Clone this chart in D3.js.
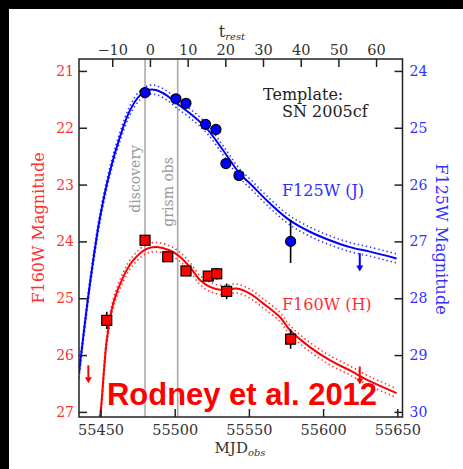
<!DOCTYPE html>
<html><head><meta charset="utf-8">
<script src="https://cdn.jsdelivr.net/npm/d3@7"></script>
<style>
html,body{margin:0;padding:0;background:#000;}
svg{display:block;}
</style></head>
<body>
<svg id="chart" width="463" height="469"></svg>
<script>
// ---- data ----
const mjdTicks = [55450, 55500, 55550, 55600, 55650];
const tRestTicks = [-10, 0, 10, 20, 30, 40, 50, 60];
const hTicks = [21, 22, 23, 24, 25, 26, 27];
const jTicks = [24, 25, 26, 27, 28, 29, 30];

// F125W (J) observations: MJD, mag, error
const jMJD = [55480.0, 55500.8, 55507.6, 55520.8, 55527.8, 55534.5, 55543.3, 55578.1];
const jMag = [24.38, 24.49, 24.57, 24.94, 25.03, 25.63, 25.84, 27.00];
const jErr = [0.04, 0.04, 0.04, 0.05, 0.05, 0.06, 0.07, 0.38];
// F160W (H) observations
const hMJD = [55454.2, 55480.0, 55495.3, 55507.6, 55522.6, 55528.3, 55535.0, 55578.1];
const hMag = [25.39, 23.98, 24.27, 24.52, 24.61, 24.57, 24.88, 25.72];
const hErr = [0.15, 0.05, 0.05, 0.06, 0.06, 0.1, 0.14, 0.17];
// upper limits
const jLimMJD = [55624.7];
const jLimMag = [27.21];
const hLimMJD = [55441.8, 55624.7];
const hLimMag = [26.18, 26.2];

// template curves (SN 2005cf)
const jCurveMJD = [55435.5, 55442.9, 55449.7, 55456.4, 55463.1, 55469.9, 55476.6, 55483.3, 55487.8, 55494.6, 55501.3, 55510.4, 55521.5, 55532.7, 55543.9, 55550.7, 55564.1, 55577.6, 55591.1, 55604.5, 55618.0, 55631.5, 55649.5];
const jCurveMag = [29.32, 27.74, 26.57, 25.76, 25.16, 24.69, 24.43, 24.33, 24.34, 24.43, 24.57, 24.75, 25.01, 25.40, 25.81, 25.98, 26.33, 26.63, 26.83, 26.98, 27.10, 27.18, 27.30];
const hCurveMJD = [55448.0, 55449.7, 55454.2, 55458.6, 55465.4, 55472.1, 55481.1, 55487.8, 55496.8, 55503.5, 55510.2, 55517.0, 55523.7, 55532.7, 55541.7, 55550.7, 55559.6, 55570.9, 55577.6, 55591.1, 55604.5, 55618.0, 55631.5, 55649.5];
const hCurveMag = [27.3, 27.09, 25.74, 25.09, 24.62, 24.33, 24.13, 24.10, 24.16, 24.27, 24.45, 24.68, 24.80, 24.86, 24.83, 24.92, 25.09, 25.33, 25.56, 25.86, 26.09, 26.27, 26.46, 26.67];
const bandHalf = 0.08;

const discoveryMJD = 55480.0;
const grismMJD = 55502.0;
const tZeroMJD = 55483.3;
const stretch = 2.54;

// ---- chart ----
const SERIF = "DejaVu Serif, serif";
const svg = d3.select("#chart");
svg.append("rect").attr("x", 9).attr("y", 9).attr("width", 454).attr("height", 460).attr("fill", "#fff");

const L = 79, R = 402.5, T = 59, B = 417;
const mjdDom = [55435.5, 55653.5];
const x = d3.scaleLinear().domain(mjdDom).range([L, R]);
const yH = d3.scaleLinear().domain([20.79, 27.09]).range([T, B]);
const yJ = d3.scaleLinear().domain([23.79, 30.09]).range([T, B]);
const xt = d3.scaleLinear().domain(mjdDom.map(m => (m - tZeroMJD) / stretch)).range([L, R]);

svg.append("clipPath").attr("id", "clip").append("rect")
  .attr("x", L).attr("y", T).attr("width", R - L).attr("height", B - T);

const plot = svg.append("g").attr("clip-path", "url(#clip)");

// vertical lines
[discoveryMJD, grismMJD].forEach(m => {
  plot.append("line").attr("x1", x(m)).attr("x2", x(m)).attr("y1", T).attr("y2", B)
    .attr("stroke", "#aaa").attr("stroke-width", 1.6);
});
svg.append("text").attr("transform", `translate(${x(discoveryMJD) - 5},145) rotate(-90)`)
  .attr("text-anchor", "end").style("font-family", SERIF).attr("font-size", 14).attr("fill", "#999").text("discovery");
svg.append("text").attr("transform", `translate(${x(grismMJD) - 5},157) rotate(-90)`)
  .attr("text-anchor", "end").style("font-family", SERIF).attr("font-size", 14).attr("fill", "#999").text("grism obs");

function drawCurve(mjds, mags, y, color) {
  const pts = mjds.map((m, i) => [m, mags[i]]);
  const line = off => d3.line().x(d => x(d[0])).y(d => y(d[1] + off)).curve(d3.curveCatmullRom.alpha(0.5))(pts);
  [-bandHalf, bandHalf].forEach(o => {
    plot.append("path").attr("d", line(o)).attr("fill", "none").attr("stroke", color)
      .attr("stroke-width", 1.6).attr("stroke-dasharray", "1.4,2.8").attr("opacity", 0.8);
  });
  plot.append("path").attr("d", line(0)).attr("fill", "none").attr("stroke", color).attr("stroke-width", 2);
}
drawCurve(jCurveMJD, jCurveMag, yJ, "#0000ff");
drawCurve(hCurveMJD, hCurveMag, yH, "#ff0000");

// upper limits
function drawLimits(mjds, mags, y, color) {
  mjds.forEach((m, i) => {
    const x0 = x(m), y0 = y(mags[i]), y1 = y(mags[i] + 0.3);
    plot.append("line").attr("x1", x0).attr("x2", x0).attr("y1", y0).attr("y2", y1 - 2)
      .attr("stroke", color).attr("stroke-width", 2);
    plot.append("path").attr("d", `M${x0 - 3.5},${y1 - 5}L${x0 + 3.5},${y1 - 5}L${x0},${y1 + 1}Z`).attr("fill", color);
  });
}
drawLimits(jLimMJD, jLimMag, yJ, "#0000ff");
drawLimits(hLimMJD, hLimMag, yH, "#ff0000");

// error bars + markers
function drawPoints(mjds, mags, errs, y, color, shape) {
  mjds.forEach((m, i) => {
    plot.append("line").attr("x1", x(m)).attr("x2", x(m))
      .attr("y1", y(mags[i] - errs[i])).attr("y2", y(mags[i] + errs[i]))
      .attr("stroke", "#000").attr("stroke-width", 1.6);
  });
  mjds.forEach((m, i) => {
    if (shape === "circle") {
      plot.append("circle").attr("cx", x(m)).attr("cy", y(mags[i])).attr("r", 5)
        .attr("fill", color).attr("stroke", "#000").attr("stroke-width", 1.2);
    } else {
      plot.append("rect").attr("x", x(m) - 5).attr("y", y(mags[i]) - 5).attr("width", 10).attr("height", 10)
        .attr("fill", color).attr("stroke", "#000").attr("stroke-width", 1.2);
    }
  });
}
drawPoints(jMJD, jMag, jErr, yJ, "#0000ff", "circle");
drawPoints(hMJD, hMag, hErr, yH, "#ff0000", "square");

// axes
const axL = svg.append("g").attr("transform", `translate(${L},0)`)
  .call(d3.axisLeft(yH).tickValues(hTicks).tickFormat(d3.format("d")).tickSize(-8).tickPadding(5));
axL.selectAll("text").attr("fill", "#ff3030").attr("font-size", 14).style("font-family", SERIF);
const axR = svg.append("g").attr("transform", `translate(${R},0)`)
  .call(d3.axisRight(yJ).tickValues(jTicks).tickFormat(d3.format("d")).tickSize(-8).tickPadding(7));
axR.selectAll("text").attr("fill", "#3030ff").attr("font-size", 14).style("font-family", SERIF);
const axB = svg.append("g").attr("transform", `translate(0,${B})`)
  .call(d3.axisBottom(x).tickValues(mjdTicks).tickFormat(d3.format("d")).tickSize(-8));
axB.selectAll("text").attr("fill", "#333").attr("font-size", 14.5).style("font-family", SERIF)
  .attr("y", 18).attr("dy", 0);
const axT = svg.append("g").attr("transform", `translate(0,${T})`)
  .call(d3.axisTop(xt).tickValues(tRestTicks).tickFormat(d => d < 0 ? "\u2212" + Math.abs(d) : d).tickSize(-8));
axT.selectAll("text").attr("fill", "#333").attr("font-size", 14.5).style("font-family", SERIF)
  .attr("y", -4).attr("dy", 0);
[axL, axR, axB, axT].forEach(a => {
  a.select(".domain").remove();
  a.selectAll(".tick line").attr("stroke", "#222").attr("stroke-width", 1.5);
});

svg.append("rect").attr("x", L).attr("y", T).attr("width", R - L).attr("height", B - T)
  .attr("fill", "none").attr("stroke", "#222").attr("stroke-width", 1.5);

// axis titles
svg.append("text").attr("transform", "translate(44,228) rotate(-90)").attr("text-anchor", "middle")
  .style("font-family", SERIF).attr("font-size", 16).attr("fill", "#ff3030").text("F160W Magnitude");
svg.append("text").attr("transform", "translate(436,239) rotate(90)").attr("text-anchor", "middle")
  .style("font-family", SERIF).attr("font-size", 16).attr("fill", "#3030ff").text("F125W Magnitude");
const mjdT = svg.append("text").attr("x", 240).attr("y", 453).attr("text-anchor", "middle")
  .style("font-family", SERIF).attr("font-size", 15).attr("fill", "#333");
mjdT.append("tspan").text("MJD");
mjdT.append("tspan").attr("font-size", 10).attr("font-style", "italic").attr("dy", 3).text("obs");
const tT = svg.append("text").attr("x", 232).attr("y", 37).attr("text-anchor", "middle")
  .style("font-family", SERIF).attr("font-size", 16).attr("fill", "#333");
tT.append("tspan").text("t");
tT.append("tspan").attr("font-size", 10).attr("font-style", "italic").attr("dy", 3).text("rest");

// annotations
const ann = (tx, ty, color, s) => svg.append("text").attr("x", tx).attr("y", ty)
  .style("font-family", SERIF).attr("font-size", 16).attr("fill", color).text(s);
ann(263, 100, "#222", "Template:");
ann(282, 117, "#222", "SN 2005cf");
ann(282, 196, "#3030ff", "F125W (J)");
ann(282, 310, "#ff3030", "F160W (H)");

svg.append("text").attr("x", 107).attr("y", 405).style("font-family", "Liberation Sans, Arial, sans-serif")
  .attr("font-weight", "bold").attr("font-size", 32).attr("fill", "#ff0000")
  .attr("textLength", 270).attr("lengthAdjust", "spacingAndGlyphs").text("Rodney et al. 2012");
</script>
</body></html>
